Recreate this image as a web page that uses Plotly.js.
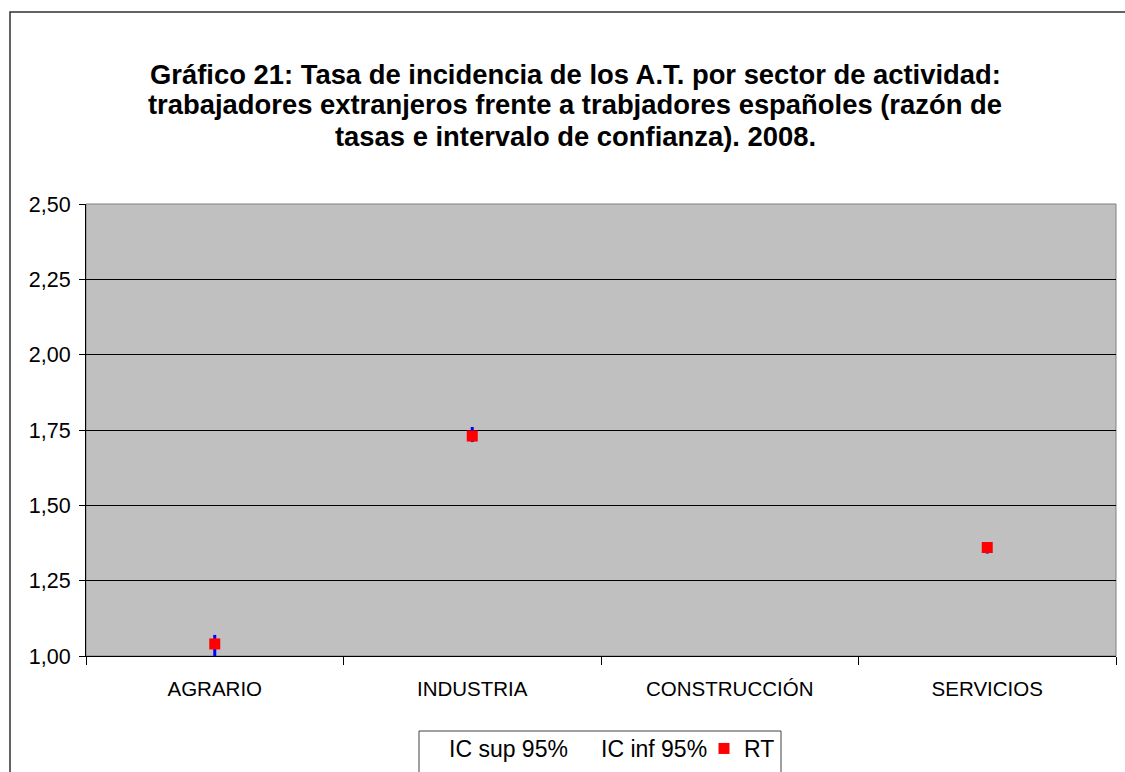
<!DOCTYPE html>
<html>
<head>
<meta charset="utf-8">
<script src="https://cdn.plot.ly/plotly-3.0.1.min.js"></script>
<style>html,body{margin:0;padding:0;background:#fff;}#chart{width:1125px;height:772px;}</style>
</head>
<body>
<div id="chart"></div>
<script>
const categories = ["AGRARIO", "INDUSTRIA", "CONSTRUCCIÓN", "SERVICIOS"];
const icSup = [1.07, 1.76, null, 1.375];
const icInf = [1.00, 1.71, null, 1.34];
const rt = [1.04, 1.73, null, 1.36];
const yTicks = [1.00, 1.25, 1.50, 1.75, 2.00, 2.25, 2.50];
const yTickText = ["1,00", "1,25", "1,50", "1,75", "2,00", "2,25", "2,50"];
const titleLines = [
  "Gráfico 21: Tasa de incidencia de los A.T. por sector de actividad:",
  "trabajadores extranjeros frente a trabjadores españoles (razón de",
  "tasas e intervalo de confianza). 2008."
];

// high-low segments built from the data arrays
const segX = [], segY = [];
categories.forEach((c, i) => {
  if (icSup[i] != null && icInf[i] != null) {
    segX.push(c, c, null);
    segY.push(icInf[i], icSup[i], null);
  }
});

const FONT = "Liberation Sans, Arial, sans-serif";

const traces = [
  {type: "scatter", mode: "lines", name: "IC sup 95%", x: categories, y: icSup, legend: "legend",
   line: {color: "rgba(0,0,0,0)", width: 0}, hoverinfo: "skip"},
  {type: "scatter", mode: "lines", name: "IC inf 95%", x: categories, y: icInf, legend: "legend2",
   line: {color: "rgba(0,0,0,0)", width: 0}, hoverinfo: "skip"},
  {type: "scatter", mode: "lines", x: segX, y: segY, showlegend: false,
   line: {color: "#0000ff", width: 3}, connectgaps: false},
  {type: "scatter", mode: "markers", name: "RT", x: categories, y: rt, legend: "legend3",
   marker: {symbol: "square", size: 11, color: "#ff0000", line: {width: 0}}}
];

const L = 86, R = 9, T = 204, B = 116, W = 1125, H = 772;
const pw = W - L - R, ph = H - T - B;
const px = v => (v - L) / pw;
const py = v => (H - B - v) / ph;

const annotations = titleLines.map((t, i) => ({
  text: "<b>" + t + "</b>", xref: "paper", yref: "paper",
  x: px(575), y: py(74 + i * 31), xanchor: "center", yanchor: "middle",
  showarrow: false, font: {family: FONT, size: 27.4, color: "#000"}
}));

const legendBase = (textStart) => ({
  orientation: "h", x: px(textStart - 41), xanchor: "left", y: py(727), yanchor: "top",
  bgcolor: "rgba(0,0,0,0)", borderwidth: 0,
  font: {family: FONT, size: 23, color: "#000"}, itemwidth: 30
});

const layout = {
  width: W, height: H,
  margin: {l: L, r: R, t: T, b: B, pad: 0, autoexpand: false},
  paper_bgcolor: "#ffffff",
  plot_bgcolor: "#c0c0c0",
  font: {family: FONT, color: "#000"},
  showlegend: true,
  legend: legendBase(450),
  legend2: legendBase(602),
  legend3: legendBase(745),
  xaxis: {
    type: "category", categoryorder: "array", categoryarray: categories,
    range: [-0.5, 3.5], tickson: "boundaries", ticks: "outside", ticklen: 8,
    tickcolor: "#000", tickwidth: 1, showgrid: false, showline: true,
    linecolor: "#000", linewidth: 1, zeroline: false, ticklabelstandoff: 14,
    tickfont: {family: FONT, size: 20.5, color: "#000"}, fixedrange: true
  },
  yaxis: {
    range: [1.0, 2.5], tickvals: yTicks, ticktext: yTickText,
    ticks: "outside", ticklen: 6, tickcolor: "#000", tickwidth: 1,
    showgrid: true, gridcolor: "#000", gridwidth: 1, showline: true,
    linecolor: "#000", linewidth: 1, zeroline: false, ticklabelstandoff: 4,
    tickfont: {family: FONT, size: 21.5, color: "#000"}, fixedrange: true
  },
  annotations: annotations,
  shapes: [
    {type: "rect", xref: "paper", yref: "paper", x0: 0, x1: 1, y0: 0, y1: 1,
     line: {color: "#808080", width: 1}, layer: "below"},
    {type: "rect", xref: "paper", yref: "paper", x0: px(10), x1: px(1140), y0: py(790), y1: py(12),
     line: {color: "#303030", width: 1.5}, fillcolor: "rgba(0,0,0,0)"},
    {type: "rect", xref: "paper", yref: "paper", x0: px(419), x1: px(781), y0: py(790), y1: py(731),
     line: {color: "#404040", width: 1}, fillcolor: "#ffffff"}
  ]
};

Plotly.newPlot("chart", traces, layout, {staticPlot: true, displayModeBar: false});
</script>
</body>
</html>
